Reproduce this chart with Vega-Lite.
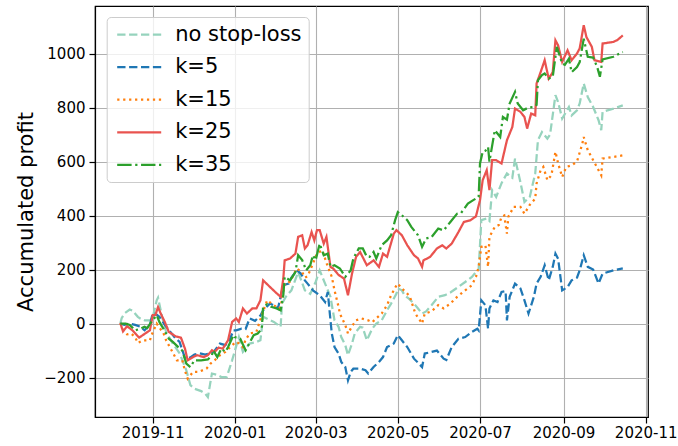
{
  "$schema": "https://vega.github.io/schema/vega-lite/v6.json",
  "width": 553,
  "height": 411,
  "autosize": {"type": "none"},
  "padding": {"left": 95, "top": 6, "right": 30, "bottom": 29},
  "background": "white",
  "data": {"values": [
    {"date":"2019-10-08","series":"no stop-loss","profit":0},
    {"date":"2019-10-09","series":"no stop-loss","profit":20},
    {"date":"2019-10-11","series":"no stop-loss","profit":37},
    {"date":"2019-10-15","series":"no stop-loss","profit":52},
    {"date":"2019-10-17","series":"no stop-loss","profit":48},
    {"date":"2019-10-21","series":"no stop-loss","profit":25},
    {"date":"2019-10-23","series":"no stop-loss","profit":18},
    {"date":"2019-10-26","series":"no stop-loss","profit":12},
    {"date":"2019-10-30","series":"no stop-loss","profit":12},
    {"date":"2019-11-01","series":"no stop-loss","profit":20},
    {"date":"2019-11-04","series":"no stop-loss","profit":86},
    {"date":"2019-11-05","series":"no stop-loss","profit":96},
    {"date":"2019-11-08","series":"no stop-loss","profit":25},
    {"date":"2019-11-11","series":"no stop-loss","profit":-31},
    {"date":"2019-11-16","series":"no stop-loss","profit":-74},
    {"date":"2019-11-21","series":"no stop-loss","profit":-110},
    {"date":"2019-11-26","series":"no stop-loss","profit":-173},
    {"date":"2019-11-29","series":"no stop-loss","profit":-228},
    {"date":"2019-12-02","series":"no stop-loss","profit":-241},
    {"date":"2019-12-07","series":"no stop-loss","profit":-250},
    {"date":"2019-12-10","series":"no stop-loss","profit":-259},
    {"date":"2019-12-12","series":"no stop-loss","profit":-272},
    {"date":"2019-12-15","series":"no stop-loss","profit":-185},
    {"date":"2019-12-19","series":"no stop-loss","profit":-190},
    {"date":"2019-12-22","series":"no stop-loss","profit":-198},
    {"date":"2019-12-26","series":"no stop-loss","profit":-198},
    {"date":"2019-12-30","series":"no stop-loss","profit":-136},
    {"date":"2020-01-04","series":"no stop-loss","profit":-50},
    {"date":"2020-01-07","series":"no stop-loss","profit":-105},
    {"date":"2020-01-12","series":"no stop-loss","profit":-74},
    {"date":"2020-01-16","series":"no stop-loss","profit":-70},
    {"date":"2020-01-20","series":"no stop-loss","profit":-62},
    {"date":"2020-01-22","series":"no stop-loss","profit":25},
    {"date":"2020-01-26","series":"no stop-loss","profit":15},
    {"date":"2020-01-30","series":"no stop-loss","profit":6},
    {"date":"2020-02-04","series":"no stop-loss","profit":-12},
    {"date":"2020-02-05","series":"no stop-loss","profit":74},
    {"date":"2020-02-08","series":"no stop-loss","profit":100},
    {"date":"2020-02-12","series":"no stop-loss","profit":123},
    {"date":"2020-02-17","series":"no stop-loss","profit":191},
    {"date":"2020-02-22","series":"no stop-loss","profit":123},
    {"date":"2020-02-26","series":"no stop-loss","profit":110},
    {"date":"2020-03-01","series":"no stop-loss","profit":154},
    {"date":"2020-03-04","series":"no stop-loss","profit":197},
    {"date":"2020-03-08","series":"no stop-loss","profit":148},
    {"date":"2020-03-12","series":"no stop-loss","profit":99},
    {"date":"2020-03-15","series":"no stop-loss","profit":12},
    {"date":"2020-03-18","series":"no stop-loss","profit":-12},
    {"date":"2020-03-20","series":"no stop-loss","profit":-50},
    {"date":"2020-03-23","series":"no stop-loss","profit":-80},
    {"date":"2020-03-25","series":"no stop-loss","profit":-117},
    {"date":"2020-03-28","series":"no stop-loss","profit":-74},
    {"date":"2020-03-30","series":"no stop-loss","profit":-37},
    {"date":"2020-04-03","series":"no stop-loss","profit":-12},
    {"date":"2020-04-05","series":"no stop-loss","profit":-15},
    {"date":"2020-04-08","series":"no stop-loss","profit":-62},
    {"date":"2020-04-12","series":"no stop-loss","profit":-19},
    {"date":"2020-04-15","series":"no stop-loss","profit":0},
    {"date":"2020-04-19","series":"no stop-loss","profit":12},
    {"date":"2020-04-23","series":"no stop-loss","profit":49},
    {"date":"2020-04-26","series":"no stop-loss","profit":74},
    {"date":"2020-04-30","series":"no stop-loss","profit":111},
    {"date":"2020-05-01","series":"no stop-loss","profit":130},
    {"date":"2020-05-04","series":"no stop-loss","profit":123},
    {"date":"2020-05-06","series":"no stop-loss","profit":105},
    {"date":"2020-05-09","series":"no stop-loss","profit":93},
    {"date":"2020-05-13","series":"no stop-loss","profit":74},
    {"date":"2020-05-16","series":"no stop-loss","profit":56},
    {"date":"2020-05-19","series":"no stop-loss","profit":37},
    {"date":"2020-05-22","series":"no stop-loss","profit":45},
    {"date":"2020-05-26","series":"no stop-loss","profit":68},
    {"date":"2020-05-31","series":"no stop-loss","profit":99},
    {"date":"2020-06-05","series":"no stop-loss","profit":105},
    {"date":"2020-06-09","series":"no stop-loss","profit":115},
    {"date":"2020-06-15","series":"no stop-loss","profit":136},
    {"date":"2020-06-20","series":"no stop-loss","profit":154},
    {"date":"2020-06-25","series":"no stop-loss","profit":173},
    {"date":"2020-06-28","series":"no stop-loss","profit":191},
    {"date":"2020-06-30","series":"no stop-loss","profit":200},
    {"date":"2020-07-02","series":"no stop-loss","profit":383},
    {"date":"2020-07-06","series":"no stop-loss","profit":389},
    {"date":"2020-07-08","series":"no stop-loss","profit":380},
    {"date":"2020-07-10","series":"no stop-loss","profit":494},
    {"date":"2020-07-13","series":"no stop-loss","profit":469},
    {"date":"2020-07-17","series":"no stop-loss","profit":520},
    {"date":"2020-07-21","series":"no stop-loss","profit":556},
    {"date":"2020-07-25","series":"no stop-loss","profit":540},
    {"date":"2020-07-27","series":"no stop-loss","profit":611},
    {"date":"2020-07-31","series":"no stop-loss","profit":524},
    {"date":"2020-08-03","series":"no stop-loss","profit":450},
    {"date":"2020-08-07","series":"no stop-loss","profit":470},
    {"date":"2020-08-11","series":"no stop-loss","profit":556},
    {"date":"2020-08-12","series":"no stop-loss","profit":617},
    {"date":"2020-08-13","series":"no stop-loss","profit":679},
    {"date":"2020-08-16","series":"no stop-loss","profit":709},
    {"date":"2020-08-20","series":"no stop-loss","profit":685},
    {"date":"2020-08-22","series":"no stop-loss","profit":700},
    {"date":"2020-08-26","series":"no stop-loss","profit":846},
    {"date":"2020-08-28","series":"no stop-loss","profit":820},
    {"date":"2020-08-31","series":"no stop-loss","profit":759},
    {"date":"2020-09-05","series":"no stop-loss","profit":802},
    {"date":"2020-09-07","series":"no stop-loss","profit":771},
    {"date":"2020-09-11","series":"no stop-loss","profit":790},
    {"date":"2020-09-13","series":"no stop-loss","profit":815},
    {"date":"2020-09-16","series":"no stop-loss","profit":889},
    {"date":"2020-09-19","series":"no stop-loss","profit":839},
    {"date":"2020-09-23","series":"no stop-loss","profit":802},
    {"date":"2020-09-27","series":"no stop-loss","profit":753},
    {"date":"2020-09-29","series":"no stop-loss","profit":716},
    {"date":"2020-09-30","series":"no stop-loss","profit":784},
    {"date":"2020-10-08","series":"no stop-loss","profit":796},
    {"date":"2020-10-15","series":"no stop-loss","profit":808},

    {"date":"2019-10-08","series":"k=5","profit":0},
    {"date":"2019-10-11","series":"k=5","profit":-5},
    {"date":"2019-10-15","series":"k=5","profit":0},
    {"date":"2019-10-19","series":"k=5","profit":-5},
    {"date":"2019-10-23","series":"k=5","profit":-12},
    {"date":"2019-10-26","series":"k=5","profit":-25},
    {"date":"2019-10-30","series":"k=5","profit":-5},
    {"date":"2019-11-01","series":"k=5","profit":37},
    {"date":"2019-11-03","series":"k=5","profit":37},
    {"date":"2019-11-06","series":"k=5","profit":25},
    {"date":"2019-11-10","series":"k=5","profit":-5},
    {"date":"2019-11-14","series":"k=5","profit":-30},
    {"date":"2019-11-18","series":"k=5","profit":-55},
    {"date":"2019-11-21","series":"k=5","profit":-68},
    {"date":"2019-11-25","series":"k=5","profit":-128},
    {"date":"2019-11-29","series":"k=5","profit":-125},
    {"date":"2019-12-02","series":"k=5","profit":-115},
    {"date":"2019-12-06","series":"k=5","profit":-110},
    {"date":"2019-12-10","series":"k=5","profit":-115},
    {"date":"2019-12-14","series":"k=5","profit":-110},
    {"date":"2019-12-17","series":"k=5","profit":-100},
    {"date":"2019-12-21","series":"k=5","profit":-74},
    {"date":"2019-12-25","series":"k=5","profit":-80},
    {"date":"2019-12-28","series":"k=5","profit":-62},
    {"date":"2019-12-31","series":"k=5","profit":-25},
    {"date":"2020-01-02","series":"k=5","profit":-25},
    {"date":"2020-01-06","series":"k=5","profit":-19},
    {"date":"2020-01-09","series":"k=5","profit":-20},
    {"date":"2020-01-12","series":"k=5","profit":19},
    {"date":"2020-01-16","series":"k=5","profit":10},
    {"date":"2020-01-20","series":"k=5","profit":30},
    {"date":"2020-01-22","series":"k=5","profit":49},
    {"date":"2020-01-27","series":"k=5","profit":74},
    {"date":"2020-01-31","series":"k=5","profit":65},
    {"date":"2020-02-02","series":"k=5","profit":56},
    {"date":"2020-02-06","series":"k=5","profit":142},
    {"date":"2020-02-10","series":"k=5","profit":148},
    {"date":"2020-02-12","series":"k=5","profit":170},
    {"date":"2020-02-16","series":"k=5","profit":197},
    {"date":"2020-02-19","series":"k=5","profit":185},
    {"date":"2020-02-22","series":"k=5","profit":160},
    {"date":"2020-02-24","series":"k=5","profit":148},
    {"date":"2020-02-28","series":"k=5","profit":123},
    {"date":"2020-03-04","series":"k=5","profit":105},
    {"date":"2020-03-08","series":"k=5","profit":80},
    {"date":"2020-03-10","series":"k=5","profit":117},
    {"date":"2020-03-12","series":"k=5","profit":12},
    {"date":"2020-03-13","series":"k=5","profit":-37},
    {"date":"2020-03-15","series":"k=5","profit":-87},
    {"date":"2020-03-18","series":"k=5","profit":-111},
    {"date":"2020-03-20","series":"k=5","profit":-142},
    {"date":"2020-03-23","series":"k=5","profit":-161},
    {"date":"2020-03-25","series":"k=5","profit":-210},
    {"date":"2020-03-27","series":"k=5","profit":-179},
    {"date":"2020-03-29","series":"k=5","profit":-167},
    {"date":"2020-04-03","series":"k=5","profit":-167},
    {"date":"2020-04-07","series":"k=5","profit":-173},
    {"date":"2020-04-09","series":"k=5","profit":-185},
    {"date":"2020-04-13","series":"k=5","profit":-161},
    {"date":"2020-04-17","series":"k=5","profit":-142},
    {"date":"2020-04-20","series":"k=5","profit":-124},
    {"date":"2020-04-23","series":"k=5","profit":-87},
    {"date":"2020-04-28","series":"k=5","profit":-74},
    {"date":"2020-05-01","series":"k=5","profit":-43},
    {"date":"2020-05-04","series":"k=5","profit":-62},
    {"date":"2020-05-08","series":"k=5","profit":-87},
    {"date":"2020-05-13","series":"k=5","profit":-130},
    {"date":"2020-05-16","series":"k=5","profit":-145},
    {"date":"2020-05-19","series":"k=5","profit":-161},
    {"date":"2020-05-21","series":"k=5","profit":-111},
    {"date":"2020-05-26","series":"k=5","profit":-105},
    {"date":"2020-05-30","series":"k=5","profit":-100},
    {"date":"2020-06-04","series":"k=5","profit":-130},
    {"date":"2020-06-06","series":"k=5","profit":-135},
    {"date":"2020-06-10","series":"k=5","profit":-87},
    {"date":"2020-06-15","series":"k=5","profit":-56},
    {"date":"2020-06-20","series":"k=5","profit":-50},
    {"date":"2020-06-25","series":"k=5","profit":-31},
    {"date":"2020-06-29","series":"k=5","profit":-19},
    {"date":"2020-06-30","series":"k=5","profit":-25},
    {"date":"2020-07-02","series":"k=5","profit":86},
    {"date":"2020-07-05","series":"k=5","profit":68},
    {"date":"2020-07-07","series":"k=5","profit":-19},
    {"date":"2020-07-08","series":"k=5","profit":56},
    {"date":"2020-07-11","series":"k=5","profit":86},
    {"date":"2020-07-14","series":"k=5","profit":80},
    {"date":"2020-07-17","series":"k=5","profit":117},
    {"date":"2020-07-20","series":"k=5","profit":120},
    {"date":"2020-07-21","series":"k=5","profit":12},
    {"date":"2020-07-23","series":"k=5","profit":99},
    {"date":"2020-07-27","series":"k=5","profit":148},
    {"date":"2020-07-31","series":"k=5","profit":130},
    {"date":"2020-08-03","series":"k=5","profit":86},
    {"date":"2020-08-06","series":"k=5","profit":37},
    {"date":"2020-08-10","series":"k=5","profit":99},
    {"date":"2020-08-12","series":"k=5","profit":148},
    {"date":"2020-08-15","series":"k=5","profit":173},
    {"date":"2020-08-18","series":"k=5","profit":216},
    {"date":"2020-08-21","series":"k=5","profit":160},
    {"date":"2020-08-24","series":"k=5","profit":210},
    {"date":"2020-08-26","series":"k=5","profit":259},
    {"date":"2020-08-28","series":"k=5","profit":240},
    {"date":"2020-08-31","series":"k=5","profit":123},
    {"date":"2020-09-04","series":"k=5","profit":135},
    {"date":"2020-09-07","series":"k=5","profit":160},
    {"date":"2020-09-11","series":"k=5","profit":170},
    {"date":"2020-09-13","series":"k=5","profit":197},
    {"date":"2020-09-16","series":"k=5","profit":253},
    {"date":"2020-09-19","series":"k=5","profit":210},
    {"date":"2020-09-23","series":"k=5","profit":200},
    {"date":"2020-09-27","series":"k=5","profit":148},
    {"date":"2020-09-30","series":"k=5","profit":185},
    {"date":"2020-10-08","series":"k=5","profit":197},
    {"date":"2020-10-15","series":"k=5","profit":204},

    {"date":"2019-10-08","series":"k=15","profit":0},
    {"date":"2019-10-10","series":"k=15","profit":-19},
    {"date":"2019-10-13","series":"k=15","profit":-40},
    {"date":"2019-10-16","series":"k=15","profit":-37},
    {"date":"2019-10-19","series":"k=15","profit":-50},
    {"date":"2019-10-21","series":"k=15","profit":-72},
    {"date":"2019-10-25","series":"k=15","profit":-62},
    {"date":"2019-10-30","series":"k=15","profit":-62},
    {"date":"2019-10-31","series":"k=15","profit":-45},
    {"date":"2019-11-04","series":"k=15","profit":0},
    {"date":"2019-11-06","series":"k=15","profit":-15},
    {"date":"2019-11-09","series":"k=15","profit":-35},
    {"date":"2019-11-11","series":"k=15","profit":-62},
    {"date":"2019-11-15","series":"k=15","profit":-99},
    {"date":"2019-11-19","series":"k=15","profit":-136},
    {"date":"2019-11-23","series":"k=15","profit":-136},
    {"date":"2019-11-25","series":"k=15","profit":-175},
    {"date":"2019-11-27","series":"k=15","profit":-204},
    {"date":"2019-12-01","series":"k=15","profit":-179},
    {"date":"2019-12-05","series":"k=15","profit":-179},
    {"date":"2019-12-11","series":"k=15","profit":-167},
    {"date":"2019-12-14","series":"k=15","profit":-148},
    {"date":"2019-12-17","series":"k=15","profit":-136},
    {"date":"2019-12-21","series":"k=15","profit":-117},
    {"date":"2019-12-25","series":"k=15","profit":-105},
    {"date":"2019-12-30","series":"k=15","profit":-80},
    {"date":"2020-01-02","series":"k=15","profit":-68},
    {"date":"2020-01-05","series":"k=15","profit":-75},
    {"date":"2020-01-07","series":"k=15","profit":-87},
    {"date":"2020-01-09","series":"k=15","profit":-60},
    {"date":"2020-01-12","series":"k=15","profit":-37},
    {"date":"2020-01-17","series":"k=15","profit":-31},
    {"date":"2020-01-21","series":"k=15","profit":31},
    {"date":"2020-01-25","series":"k=15","profit":86},
    {"date":"2020-01-30","series":"k=15","profit":68},
    {"date":"2020-02-02","series":"k=15","profit":56},
    {"date":"2020-02-04","series":"k=15","profit":60},
    {"date":"2020-02-07","series":"k=15","profit":148},
    {"date":"2020-02-11","series":"k=15","profit":155},
    {"date":"2020-02-16","series":"k=15","profit":204},
    {"date":"2020-02-20","series":"k=15","profit":190},
    {"date":"2020-02-22","series":"k=15","profit":170},
    {"date":"2020-02-24","series":"k=15","profit":175},
    {"date":"2020-02-27","series":"k=15","profit":210},
    {"date":"2020-03-02","series":"k=15","profit":259},
    {"date":"2020-03-06","series":"k=15","profit":272},
    {"date":"2020-03-09","series":"k=15","profit":225},
    {"date":"2020-03-13","series":"k=15","profit":173},
    {"date":"2020-03-15","series":"k=15","profit":123},
    {"date":"2020-03-18","series":"k=15","profit":62},
    {"date":"2020-03-19","series":"k=15","profit":37},
    {"date":"2020-03-23","series":"k=15","profit":-6},
    {"date":"2020-03-25","series":"k=15","profit":-37},
    {"date":"2020-03-28","series":"k=15","profit":-10},
    {"date":"2020-03-31","series":"k=15","profit":12},
    {"date":"2020-04-04","series":"k=15","profit":19},
    {"date":"2020-04-09","series":"k=15","profit":12},
    {"date":"2020-04-12","series":"k=15","profit":5},
    {"date":"2020-04-15","series":"k=15","profit":19},
    {"date":"2020-04-19","series":"k=15","profit":37},
    {"date":"2020-04-23","series":"k=15","profit":68},
    {"date":"2020-04-26","series":"k=15","profit":105},
    {"date":"2020-04-30","series":"k=15","profit":142},
    {"date":"2020-05-01","series":"k=15","profit":148},
    {"date":"2020-05-04","series":"k=15","profit":130},
    {"date":"2020-05-08","series":"k=15","profit":111},
    {"date":"2020-05-10","series":"k=15","profit":99},
    {"date":"2020-05-14","series":"k=15","profit":37},
    {"date":"2020-05-19","series":"k=15","profit":0},
    {"date":"2020-05-21","series":"k=15","profit":37},
    {"date":"2020-05-26","series":"k=15","profit":45},
    {"date":"2020-05-31","series":"k=15","profit":68},
    {"date":"2020-06-04","series":"k=15","profit":56},
    {"date":"2020-06-09","series":"k=15","profit":74},
    {"date":"2020-06-14","series":"k=15","profit":99},
    {"date":"2020-06-20","series":"k=15","profit":123},
    {"date":"2020-06-25","series":"k=15","profit":142},
    {"date":"2020-06-28","series":"k=15","profit":173},
    {"date":"2020-06-30","series":"k=15","profit":210},
    {"date":"2020-07-02","series":"k=15","profit":284},
    {"date":"2020-07-05","series":"k=15","profit":290},
    {"date":"2020-07-07","series":"k=15","profit":210},
    {"date":"2020-07-08","series":"k=15","profit":321},
    {"date":"2020-07-12","series":"k=15","profit":358},
    {"date":"2020-07-15","series":"k=15","profit":365},
    {"date":"2020-07-17","series":"k=15","profit":395},
    {"date":"2020-07-19","series":"k=15","profit":400},
    {"date":"2020-07-21","series":"k=15","profit":333},
    {"date":"2020-07-22","series":"k=15","profit":395},
    {"date":"2020-07-26","series":"k=15","profit":432},
    {"date":"2020-07-31","series":"k=15","profit":432},
    {"date":"2020-08-03","series":"k=15","profit":407},
    {"date":"2020-08-07","series":"k=15","profit":440},
    {"date":"2020-08-11","series":"k=15","profit":463},
    {"date":"2020-08-12","series":"k=15","profit":519},
    {"date":"2020-08-15","series":"k=15","profit":568},
    {"date":"2020-08-17","series":"k=15","profit":580},
    {"date":"2020-08-20","series":"k=15","profit":531},
    {"date":"2020-08-23","series":"k=15","profit":549},
    {"date":"2020-08-26","series":"k=15","profit":636},
    {"date":"2020-08-28","series":"k=15","profit":593},
    {"date":"2020-08-31","series":"k=15","profit":543},
    {"date":"2020-09-03","series":"k=15","profit":580},
    {"date":"2020-09-07","series":"k=15","profit":586},
    {"date":"2020-09-11","series":"k=15","profit":600},
    {"date":"2020-09-15","series":"k=15","profit":667},
    {"date":"2020-09-16","series":"k=15","profit":691},
    {"date":"2020-09-19","series":"k=15","profit":642},
    {"date":"2020-09-23","series":"k=15","profit":605},
    {"date":"2020-09-27","series":"k=15","profit":568},
    {"date":"2020-09-29","series":"k=15","profit":549},
    {"date":"2020-09-30","series":"k=15","profit":611},
    {"date":"2020-10-08","series":"k=15","profit":617},
    {"date":"2020-10-15","series":"k=15","profit":623},

    {"date":"2019-10-08","series":"k=25","profit":2},
    {"date":"2019-10-10","series":"k=25","profit":-29},
    {"date":"2019-10-13","series":"k=25","profit":-10},
    {"date":"2019-10-17","series":"k=25","profit":-25},
    {"date":"2019-10-22","series":"k=25","profit":-52},
    {"date":"2019-10-27","series":"k=25","profit":-35},
    {"date":"2019-10-30","series":"k=25","profit":-25},
    {"date":"2019-11-01","series":"k=25","profit":31},
    {"date":"2019-11-03","series":"k=25","profit":31},
    {"date":"2019-11-05","series":"k=25","profit":61},
    {"date":"2019-11-07","series":"k=25","profit":37},
    {"date":"2019-11-10","series":"k=25","profit":6},
    {"date":"2019-11-13","series":"k=25","profit":-31},
    {"date":"2019-11-18","series":"k=25","profit":-47},
    {"date":"2019-11-22","series":"k=25","profit":-52},
    {"date":"2019-11-25","series":"k=25","profit":-93},
    {"date":"2019-11-27","series":"k=25","profit":-136},
    {"date":"2019-12-01","series":"k=25","profit":-124},
    {"date":"2019-12-04","series":"k=25","profit":-117},
    {"date":"2019-12-09","series":"k=25","profit":-124},
    {"date":"2019-12-12","series":"k=25","profit":-117},
    {"date":"2019-12-15","series":"k=25","profit":-99},
    {"date":"2019-12-17","series":"k=25","profit":-105},
    {"date":"2019-12-20","series":"k=25","profit":-89},
    {"date":"2019-12-23","series":"k=25","profit":-93},
    {"date":"2019-12-27","series":"k=25","profit":-62},
    {"date":"2019-12-30","series":"k=25","profit":6},
    {"date":"2020-01-02","series":"k=25","profit":19},
    {"date":"2020-01-04","series":"k=25","profit":6},
    {"date":"2020-01-07","series":"k=25","profit":56},
    {"date":"2020-01-10","series":"k=25","profit":37},
    {"date":"2020-01-14","series":"k=25","profit":56},
    {"date":"2020-01-17","series":"k=25","profit":56},
    {"date":"2020-01-20","series":"k=25","profit":86},
    {"date":"2020-01-22","series":"k=25","profit":160},
    {"date":"2020-01-27","series":"k=25","profit":136},
    {"date":"2020-01-31","series":"k=25","profit":117},
    {"date":"2020-02-04","series":"k=25","profit":99},
    {"date":"2020-02-06","series":"k=25","profit":167},
    {"date":"2020-02-07","series":"k=25","profit":234},
    {"date":"2020-02-11","series":"k=25","profit":241},
    {"date":"2020-02-15","series":"k=25","profit":259},
    {"date":"2020-02-17","series":"k=25","profit":321},
    {"date":"2020-02-20","series":"k=25","profit":327},
    {"date":"2020-02-22","series":"k=25","profit":278},
    {"date":"2020-02-24","series":"k=25","profit":290},
    {"date":"2020-02-27","series":"k=25","profit":339},
    {"date":"2020-02-29","series":"k=25","profit":308},
    {"date":"2020-03-02","series":"k=25","profit":346},
    {"date":"2020-03-04","series":"k=25","profit":346},
    {"date":"2020-03-07","series":"k=25","profit":296},
    {"date":"2020-03-09","series":"k=25","profit":321},
    {"date":"2020-03-12","series":"k=25","profit":210},
    {"date":"2020-03-14","series":"k=25","profit":204},
    {"date":"2020-03-18","series":"k=25","profit":180},
    {"date":"2020-03-22","series":"k=25","profit":167},
    {"date":"2020-03-25","series":"k=25","profit":105},
    {"date":"2020-03-28","series":"k=25","profit":185},
    {"date":"2020-03-31","series":"k=25","profit":247},
    {"date":"2020-04-03","series":"k=25","profit":265},
    {"date":"2020-04-08","series":"k=25","profit":216},
    {"date":"2020-04-13","series":"k=25","profit":234},
    {"date":"2020-04-17","series":"k=25","profit":210},
    {"date":"2020-04-20","series":"k=25","profit":259},
    {"date":"2020-04-23","series":"k=25","profit":247},
    {"date":"2020-04-28","series":"k=25","profit":333},
    {"date":"2020-04-30","series":"k=25","profit":346},
    {"date":"2020-05-04","series":"k=25","profit":327},
    {"date":"2020-05-08","series":"k=25","profit":290},
    {"date":"2020-05-13","series":"k=25","profit":253},
    {"date":"2020-05-16","series":"k=25","profit":241},
    {"date":"2020-05-19","series":"k=25","profit":210},
    {"date":"2020-05-20","series":"k=25","profit":234},
    {"date":"2020-05-25","series":"k=25","profit":247},
    {"date":"2020-05-30","series":"k=25","profit":278},
    {"date":"2020-06-03","series":"k=25","profit":290},
    {"date":"2020-06-06","series":"k=25","profit":278},
    {"date":"2020-06-10","series":"k=25","profit":296},
    {"date":"2020-06-15","series":"k=25","profit":339},
    {"date":"2020-06-19","series":"k=25","profit":376},
    {"date":"2020-06-24","series":"k=25","profit":383},
    {"date":"2020-06-28","series":"k=25","profit":397},
    {"date":"2020-07-01","series":"k=25","profit":457},
    {"date":"2020-07-03","series":"k=25","profit":531},
    {"date":"2020-07-06","series":"k=25","profit":568},
    {"date":"2020-07-08","series":"k=25","profit":494},
    {"date":"2020-07-10","series":"k=25","profit":605},
    {"date":"2020-07-13","series":"k=25","profit":605},
    {"date":"2020-07-17","series":"k=25","profit":593},
    {"date":"2020-07-21","series":"k=25","profit":679},
    {"date":"2020-07-25","series":"k=25","profit":728},
    {"date":"2020-07-27","series":"k=25","profit":796},
    {"date":"2020-07-31","series":"k=25","profit":784},
    {"date":"2020-08-03","series":"k=25","profit":765},
    {"date":"2020-08-05","series":"k=25","profit":722},
    {"date":"2020-08-08","series":"k=25","profit":778},
    {"date":"2020-08-11","series":"k=25","profit":771},
    {"date":"2020-08-12","series":"k=25","profit":889},
    {"date":"2020-08-15","series":"k=25","profit":931},
    {"date":"2020-08-18","series":"k=25","profit":975},
    {"date":"2020-08-21","series":"k=25","profit":907},
    {"date":"2020-08-24","series":"k=25","profit":931},
    {"date":"2020-08-26","series":"k=25","profit":1049},
    {"date":"2020-08-28","series":"k=25","profit":1030},
    {"date":"2020-08-31","series":"k=25","profit":969},
    {"date":"2020-09-04","series":"k=25","profit":1012},
    {"date":"2020-09-07","series":"k=25","profit":975},
    {"date":"2020-09-11","series":"k=25","profit":1000},
    {"date":"2020-09-13","series":"k=25","profit":1019},
    {"date":"2020-09-16","series":"k=25","profit":1105},
    {"date":"2020-09-18","series":"k=25","profit":1061},
    {"date":"2020-09-22","series":"k=25","profit":1025},
    {"date":"2020-09-24","series":"k=25","profit":975},
    {"date":"2020-09-29","series":"k=25","profit":969},
    {"date":"2020-09-30","series":"k=25","profit":1037},
    {"date":"2020-10-08","series":"k=25","profit":1043},
    {"date":"2020-10-11","series":"k=25","profit":1050},
    {"date":"2020-10-15","series":"k=25","profit":1067},

    {"date":"2019-10-08","series":"k=35","profit":0},
    {"date":"2019-10-12","series":"k=35","profit":0},
    {"date":"2019-10-15","series":"k=35","profit":-5},
    {"date":"2019-10-19","series":"k=35","profit":-25},
    {"date":"2019-10-23","series":"k=35","profit":-19},
    {"date":"2019-10-26","series":"k=35","profit":-12},
    {"date":"2019-10-28","series":"k=35","profit":-17},
    {"date":"2019-10-31","series":"k=35","profit":6},
    {"date":"2019-11-04","series":"k=35","profit":31},
    {"date":"2019-11-06","series":"k=35","profit":6},
    {"date":"2019-11-09","series":"k=35","profit":-19},
    {"date":"2019-11-13","series":"k=35","profit":-56},
    {"date":"2019-11-16","series":"k=35","profit":-68},
    {"date":"2019-11-20","series":"k=35","profit":-87},
    {"date":"2019-11-23","series":"k=35","profit":-100},
    {"date":"2019-11-26","series":"k=35","profit":-148},
    {"date":"2019-11-29","series":"k=35","profit":-161},
    {"date":"2019-12-02","series":"k=35","profit":-136},
    {"date":"2019-12-07","series":"k=35","profit":-136},
    {"date":"2019-12-12","series":"k=35","profit":-133},
    {"date":"2019-12-15","series":"k=35","profit":-117},
    {"date":"2019-12-16","series":"k=35","profit":-99},
    {"date":"2019-12-19","series":"k=35","profit":-124},
    {"date":"2019-12-22","series":"k=35","profit":-93},
    {"date":"2019-12-25","series":"k=35","profit":-105},
    {"date":"2019-12-27","series":"k=35","profit":-87},
    {"date":"2019-12-31","series":"k=35","profit":-43},
    {"date":"2020-01-01","series":"k=35","profit":-50},
    {"date":"2020-01-05","series":"k=35","profit":-56},
    {"date":"2020-01-09","series":"k=35","profit":-99},
    {"date":"2020-01-11","series":"k=35","profit":-80},
    {"date":"2020-01-15","series":"k=35","profit":-43},
    {"date":"2020-01-18","series":"k=35","profit":-37},
    {"date":"2020-01-21","series":"k=35","profit":-20},
    {"date":"2020-01-22","series":"k=35","profit":62},
    {"date":"2020-01-25","series":"k=35","profit":71},
    {"date":"2020-01-28","series":"k=35","profit":62},
    {"date":"2020-02-01","series":"k=35","profit":56},
    {"date":"2020-02-04","series":"k=35","profit":49},
    {"date":"2020-02-06","series":"k=35","profit":105},
    {"date":"2020-02-07","series":"k=35","profit":173},
    {"date":"2020-02-11","series":"k=35","profit":160},
    {"date":"2020-02-15","series":"k=35","profit":191},
    {"date":"2020-02-17","series":"k=35","profit":253},
    {"date":"2020-02-20","series":"k=35","profit":235},
    {"date":"2020-02-23","series":"k=35","profit":197},
    {"date":"2020-02-26","series":"k=35","profit":216},
    {"date":"2020-02-28","series":"k=35","profit":253},
    {"date":"2020-03-01","series":"k=35","profit":235},
    {"date":"2020-03-04","series":"k=35","profit":296},
    {"date":"2020-03-07","series":"k=35","profit":253},
    {"date":"2020-03-10","series":"k=35","profit":259},
    {"date":"2020-03-12","series":"k=35","profit":210},
    {"date":"2020-03-15","series":"k=35","profit":216},
    {"date":"2020-03-19","series":"k=35","profit":204},
    {"date":"2020-03-23","series":"k=35","profit":173},
    {"date":"2020-03-27","series":"k=35","profit":197},
    {"date":"2020-03-29","series":"k=35","profit":241},
    {"date":"2020-04-02","series":"k=35","profit":278},
    {"date":"2020-04-05","series":"k=35","profit":278},
    {"date":"2020-04-08","series":"k=35","profit":247},
    {"date":"2020-04-10","series":"k=35","profit":247},
    {"date":"2020-04-13","series":"k=35","profit":265},
    {"date":"2020-04-15","series":"k=35","profit":241},
    {"date":"2020-04-19","series":"k=35","profit":290},
    {"date":"2020-04-23","series":"k=35","profit":308},
    {"date":"2020-04-26","series":"k=35","profit":327},
    {"date":"2020-04-29","series":"k=35","profit":383},
    {"date":"2020-05-01","series":"k=35","profit":413},
    {"date":"2020-05-04","series":"k=35","profit":401},
    {"date":"2020-05-08","series":"k=35","profit":383},
    {"date":"2020-05-11","series":"k=35","profit":358},
    {"date":"2020-05-16","series":"k=35","profit":327},
    {"date":"2020-05-19","series":"k=35","profit":284},
    {"date":"2020-05-22","series":"k=35","profit":315},
    {"date":"2020-05-26","series":"k=35","profit":320},
    {"date":"2020-05-31","series":"k=35","profit":352},
    {"date":"2020-06-04","series":"k=35","profit":345},
    {"date":"2020-06-09","series":"k=35","profit":376},
    {"date":"2020-06-14","series":"k=35","profit":407},
    {"date":"2020-06-17","series":"k=35","profit":410},
    {"date":"2020-06-22","series":"k=35","profit":444},
    {"date":"2020-06-26","series":"k=35","profit":457},
    {"date":"2020-06-30","series":"k=35","profit":469},
    {"date":"2020-07-01","series":"k=35","profit":593},
    {"date":"2020-07-03","series":"k=35","profit":636},
    {"date":"2020-07-05","series":"k=35","profit":640},
    {"date":"2020-07-07","series":"k=35","profit":654},
    {"date":"2020-07-08","series":"k=35","profit":600},
    {"date":"2020-07-12","series":"k=35","profit":716},
    {"date":"2020-07-16","series":"k=35","profit":691},
    {"date":"2020-07-18","series":"k=35","profit":765},
    {"date":"2020-07-21","series":"k=35","profit":755},
    {"date":"2020-07-23","series":"k=35","profit":815},
    {"date":"2020-07-27","series":"k=35","profit":858},
    {"date":"2020-07-29","series":"k=35","profit":815},
    {"date":"2020-08-02","series":"k=35","profit":790},
    {"date":"2020-08-06","series":"k=35","profit":800},
    {"date":"2020-08-10","series":"k=35","profit":802},
    {"date":"2020-08-12","series":"k=35","profit":810},
    {"date":"2020-08-13","series":"k=35","profit":901},
    {"date":"2020-08-16","series":"k=35","profit":920},
    {"date":"2020-08-18","series":"k=35","profit":926},
    {"date":"2020-08-21","series":"k=35","profit":907},
    {"date":"2020-08-24","series":"k=35","profit":914},
    {"date":"2020-08-27","series":"k=35","profit":1025},
    {"date":"2020-08-31","series":"k=35","profit":963},
    {"date":"2020-09-02","series":"k=35","profit":958},
    {"date":"2020-09-05","series":"k=35","profit":981},
    {"date":"2020-09-07","series":"k=35","profit":931},
    {"date":"2020-09-11","series":"k=35","profit":950},
    {"date":"2020-09-13","series":"k=35","profit":968},
    {"date":"2020-09-16","series":"k=35","profit":1055},
    {"date":"2020-09-19","series":"k=35","profit":988},
    {"date":"2020-09-23","series":"k=35","profit":985},
    {"date":"2020-09-26","series":"k=35","profit":950},
    {"date":"2020-09-28","series":"k=35","profit":914},
    {"date":"2020-09-30","series":"k=35","profit":978},
    {"date":"2020-10-08","series":"k=35","profit":988},
    {"date":"2020-10-15","series":"k=35","profit":1006}
  ]},
  "mark": {"type": "line", "strokeWidth": 2.25, "clip": true},
  "encoding": {
    "x": {
      "field": "date", "type": "temporal",
      "scale": {"type": "utc", "domain": [{"year": 2019, "month": 9, "date": 19, "hours": 5, "utc": true}, {"year": 2020, "month": 11, "date": 2, "hours": 17, "utc": true}]},
      "axis": {
        "title": null,
        "values": [
          {"year": 2019, "month": 11, "date": 1, "utc": true},
          {"year": 2020, "month": 1, "date": 1, "utc": true},
          {"year": 2020, "month": 3, "date": 1, "utc": true},
          {"year": 2020, "month": 5, "date": 1, "utc": true},
          {"year": 2020, "month": 7, "date": 1, "utc": true},
          {"year": 2020, "month": 9, "date": 1, "utc": true},
          {"year": 2020, "month": 11, "date": 1, "utc": true}
        ],
        "labelExpr": "utcFormat(datum.value, '%Y-%m')",
        "labelAngle": 0,
        "labelPadding": 2
      }
    },
    "y": {
      "field": "profit", "type": "quantitative",
      "scale": {"domain": [-346, 1176], "nice": false, "zero": false},
      "axis": {"title": "Accumulated profit", "values": [-200, 0, 200, 400, 600, 800, 1000], "format": "d", "titlePadding": 7}
    },
    "color": {
      "field": "series", "type": "nominal",
      "scale": {"domain": ["no stop-loss", "k=5", "k=15", "k=25", "k=35"], "range": ["#96d3bd", "#1f77b4", "#ff7f0e", "#e9534f", "#2ca02c"]},
      "legend": {
        "title": null, "orient": "none", "legendX": 11.7, "legendY": 11,
        "symbolType": "M-4,0H4", "symbolSize": 121, "symbolStrokeWidth": 2.25, "symbolFillColor": "transparent",
        "symbolOffset": 15,
        "labelFont": "DejaVu Sans", "labelFontSize": 21, "labelColor": "black", "labelOffset": 25.5, "labelLimit": 400,
        "padding": 7, "rowPadding": 10.6,
        "strokeColor": "#cccccc", "fillColor": "rgba(255,255,255,0.8)", "cornerRadius": 4
      }
    },
    "strokeDash": {
      "field": "series", "type": "nominal",
      "scale": {"domain": ["no stop-loss", "k=5", "k=15", "k=25", "k=35"], "range": [[8.3, 3.6], [8.3, 3.6], [2.25, 3.7], [1, 0], [14.4, 3.6, 2.25, 3.6]]}
    }
  },
  "config": {
    "font": "DejaVu Sans",
    "view": {"stroke": "black", "strokeWidth": 1.2},
    "axis": {
      "domainColor": "black", "domainWidth": 1.2,
      "tickColor": "black", "tickWidth": 1.2, "tickSize": 6,
      "labelFont": "DejaVu Sans", "labelFontSize": 15, "labelColor": "black", "labelPadding": 4,
      "labelFlush": false, "labelOverlap": false,
      "grid": true, "gridColor": "#b0b0b0", "gridWidth": 1.1,
      "titleFont": "DejaVu Sans", "titleFontSize": 21, "titleFontWeight": "normal", "titleColor": "black"
    }
  }
}
